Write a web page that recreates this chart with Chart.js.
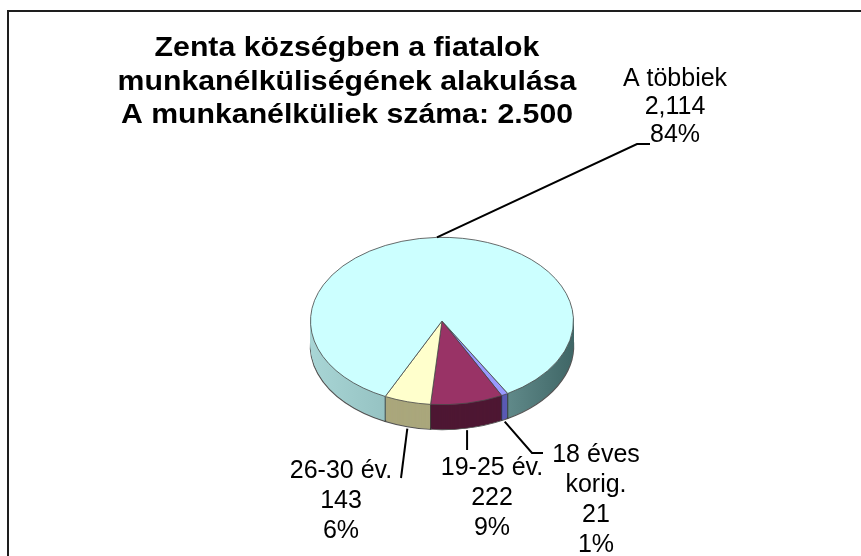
<!DOCTYPE html>
<html><head><meta charset="utf-8">
<script src="https://cdn.jsdelivr.net/npm/chart.js@4/dist/chart.umd.min.js"></script>
<style>
html,body{margin:0;padding:0;overflow:hidden;background:#fff;width:861px;height:556px;}
#wrap{position:relative;width:861px;height:556px;overflow:hidden;}
#frame{position:absolute;left:7px;top:10px;width:900px;height:600px;border:2px solid #1e1e1e;box-sizing:border-box;}
canvas{position:absolute;left:0;top:0;}
</style></head><body>
<div id="wrap"><div id="frame"></div><canvas id="c" width="861" height="556"></canvas></div>
<script>
// ---- data ----
const categories = [['18 éves', 'korig.'], ['19-25 év.'], ['26-30 év.'], ['A többiek']];
const values = [21, 222, 143, 2114];
const valueLabels = ['21', '222', '143', '2,114'];
const percentLabels = ['1%', '9%', '6%', '84%'];
const titleLines = ['Zenta községben a fiatalok', 'munkanélküliségének alakulása', 'A munkanélküliek száma: 2.500'];

// ---- styles / layout ----
const topColors = ['#9999FF', '#993366', '#FFFFCC', '#CCFFFF'];
const sideColors = ['#5a5ab4', '#4e1733', '#aaa77c', null];
const labelPos = [[596, 455], [492, 468], [341, 471], [675, 79]];
const labelGap = [30, 30, 30, 28];
const leaderEnds = [[[532, 453], [543, 453]], [[null, 450]], [[401, 478]], [[637, 144], [650, 144]]];
const leaderFromTop = [false, false, false, true];
const TILT = 84 / 132;
const DEPTH = 25;

const pie3d = {
  id: 'pie3d',
  beforeDatasetsDraw(chart) {
    const ctx = chart.ctx;
    const arcs = chart.getDatasetMeta(0).data;
    const cx = arcs[0].x, cy = arcs[0].y, r = arcs[0].outerRadius;
    ctx.save();
    ctx.translate(0, cy); ctx.scale(1, TILT); ctx.translate(0, -cy);
    const grad = ctx.createLinearGradient(cx - r, 0, cx + r, 0);
    grad.addColorStop(0, '#a8d5d5');
    grad.addColorStop(0.4, '#8ebbbb');
    grad.addColorStop(1, '#3f6666');
    for (let d = DEPTH; d >= 1; d--) {
      ctx.save();
      ctx.translate(0, d / TILT);
      arcs.forEach((arc, i) => {
        const o = arc.options;
        arc.options = Object.assign({}, o, {
          backgroundColor: sideColors[i] || grad,
          borderWidth: d === DEPTH ? 1.5 : 0,
          borderColor: '#555'
        });
        arc.draw(ctx);
        arc.options = o;
      });
      ctx.restore();
    }
    ctx.strokeStyle = '#2a2a2a';
    ctx.lineWidth = 1;
    arcs.forEach(arc => {
      const a = arc.startAngle;
      if (Math.sin(a) > 0) {
        const x = cx + r * Math.cos(a), y = cy + r * Math.sin(a);
        ctx.beginPath(); ctx.moveTo(x, y); ctx.lineTo(x, y + DEPTH / TILT); ctx.stroke();
      }
    });
  },
  afterDatasetsDraw(chart) {
    chart.ctx.restore();
  },
  afterDraw(chart) {
    const ctx = chart.ctx;
    const arcs = chart.getDatasetMeta(0).data;
    const cx = arcs[0].x, cy = arcs[0].y, r = arcs[0].outerRadius;
    ctx.save();
    ctx.strokeStyle = '#000';
    ctx.lineWidth = 2;
    arcs.forEach((arc, i) => {
      const a = (arc.startAngle + arc.endAngle) / 2;
      const sx = cx + r * Math.cos(a);
      let sy = cy + r * TILT * Math.sin(a);
      if (!leaderFromTop[i]) sy += DEPTH + 2;
      ctx.beginPath();
      ctx.moveTo(sx, sy);
      leaderEnds[i].forEach(p => ctx.lineTo(p[0] === null ? sx : p[0], p[1]));
      ctx.stroke();
    });
    ctx.fillStyle = '#000';
    ctx.font = '25px "Liberation Sans", Arial, sans-serif';
    ctx.textAlign = 'center';
    ctx.textBaseline = 'middle';
    arcs.forEach((arc, i) => {
      const lines = [...categories[i], valueLabels[i], percentLabels[i]];
      lines.forEach((t, j) => ctx.fillText(t, labelPos[i][0], labelPos[i][1] + j * labelGap[i]));
    });
    ctx.font = 'bold 28px "Liberation Sans", Arial, sans-serif';
    ctx.textBaseline = 'alphabetic';
    titleLines.forEach((t, j) => {
      ctx.save();
      ctx.translate(347, 56 + j * 33.5);
      ctx.scale(1.08, 1);
      ctx.fillText(t, 0, 0);
      ctx.restore();
    });
    ctx.restore();
  }
};

new Chart(document.getElementById('c'), {
  type: 'pie',
  data: {
    labels: categories.map(c => c.join(' ')),
    datasets: [{
      data: values,
      backgroundColor: topColors,
      borderColor: '#4a4a4a',
      borderWidth: 1,
      clip: false
    }]
  },
  options: {
    responsive: false,
    animation: false,
    devicePixelRatio: 1,
    rotation: 150,
    events: [],
    layout: { padding: { left: 310, right: 287, top: 189, bottom: 103 } },
    plugins: { legend: { display: false }, tooltip: { enabled: false }, title: { display: false } }
  },
  plugins: [pie3d]
});
</script>
</body></html>
